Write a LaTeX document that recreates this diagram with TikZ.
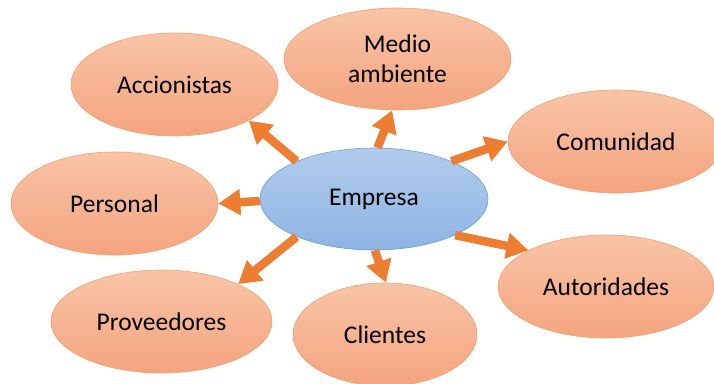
\documentclass[tikz,border=0pt]{standalone}
\usepackage{fontspec}
\setmainfont{Carlito}
\usetikzlibrary{arrows.meta,shapes.geometric}
\definecolor{arr}{HTML}{ED7D31}
\definecolor{otop}{HTML}{F8C4A6}
\definecolor{obot}{HTML}{F4A47F}
\definecolor{oline}{HTML}{F4A070}
\definecolor{btop}{HTML}{B0CCEC}
\definecolor{bbot}{HTML}{8EB3E2}
\definecolor{bline}{HTML}{6A9FD8}
\tikzset{
  oval/.style={ellipse, draw=oline, line width=0.6pt, top color=otop, bottom color=obot, inner sep=0pt, align=center, font=\fontsize{25.5}{30}\selectfont, text=black},
  core/.style={ellipse, draw=bline, line width=0.6pt, top color=btop, bottom color=bbot, inner sep=0pt, font=\fontsize{25.5}{30}\selectfont, text=black},
  link/.style={draw=arr, line width=8.5pt, -{Triangle[width=25pt,length=22pt]}}
}
\begin{document}
\begin{tikzpicture}[x=1pt,y=-1pt]
\useasboundingbox (0,0) rectangle (714,383);
\node[core, minimum width=228pt, minimum height=102pt] (e) at (374,199) {Empresa};
\node[oval, minimum width=227pt, minimum height=102pt] (med) at (397.5,59) {Medio\\ambiente};
\node[oval, minimum width=207pt, minimum height=103pt] (acc) at (174.5,84.5) {Accionistas};
\node[oval, minimum width=216pt, minimum height=103pt] (com) at (616,141.5) {Comunidad};
\node[oval, minimum width=207pt, minimum height=103pt] (per) at (114.5,203.5) {Personal};
\node[oval, minimum width=216pt, minimum height=103pt] (aut) at (606,286.5) {Autoridades};
\node[oval, minimum width=221pt, minimum height=103pt] (pro) at (161.5,321.5) {Proveedores};
\node[oval, minimum width=184pt, minimum height=103pt] (cli) at (385,334.5) {Clientes};
\draw[link] (e.154) -- (acc.-26);
\draw[link] (e.86) -- (med.-96);
\draw[link] (e.26) -- (com.180);
\draw[link] (e.181) -- (per.0);
\draw[link] (e.206) -- (pro.26);
\draw[link] (e.-89) -- (cli.89);
\draw[link] (e.-24.5) -- (aut.155.6);
\end{tikzpicture}
\end{document}
